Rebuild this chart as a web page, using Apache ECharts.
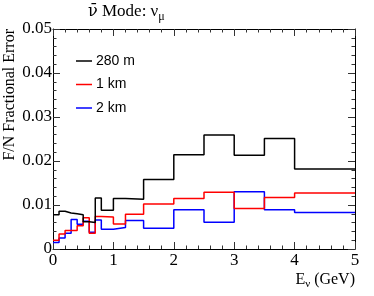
<!DOCTYPE html>
<html><head><meta charset="utf-8">
<script src="https://cdn.jsdelivr.net/npm/echarts@6/dist/echarts.min.js"></script>
<style>html,body{margin:0;padding:0;background:#fff}#c{width:374px;height:296px}</style>
</head><body><div id="c"></div>
<script>
// Bin edges in E_nu (GeV)
const binEdges = [0, 0.1, 0.2, 0.3, 0.4, 0.5, 0.6, 0.7, 0.8, 1.0, 1.2, 1.5, 2.0, 2.5, 3.0, 3.5, 4.0, 5.0];
// F/N fractional error per bin
const err280m = [0.0078, 0.0086, 0.0082, 0.0080, 0.0078, 0.0062, 0.0060, 0.0116, 0.0088, 0.0115, 0.0113, 0.0158, 0.0214, 0.0259, 0.0213, 0.0251, 0.0182];
const err1km  = [0.0020, 0.0034, 0.0042, 0.0042, 0.0053, 0.0071, 0.0036, 0.0074, 0.0073, 0.0057, 0.0079, 0.0102, 0.0115, 0.0129, 0.0092, 0.0117, 0.0127];
const err2km  = [0.0015, 0.0025, 0.0036, 0.0067, 0.0056, 0.0063, 0.0038, 0.0066, 0.0045, 0.0049, 0.0065, 0.0047, 0.0089, 0.0061, 0.0130, 0.0089, 0.0083];
const seriesNames = ['280 m', '1 km', '2 km'];
const xTicks = ['0', '1', '2', '3', '4', '5'];
const yTicks = ['0', '0.01', '0.02', '0.03', '0.04', '0.05'];

function stepData(vals) {
  return binEdges.map((e, i) => [e, vals[Math.min(i, vals.length - 1)]]);
}

const chart = echarts.init(document.getElementById('c'), null, {renderer: 'canvas'});
const serif = 'Liberation Serif';
const axisLineStyle = {color: '#000', width: 1};
function xAx(pos, labels) {
  return {
    type: 'value', position: pos, min: 0, max: 5, interval: 1,
    axisLine: {show: true, onZero: false, lineStyle: axisLineStyle},
    axisTick: {show: true, inside: true, length: 7, lineStyle: {color: '#333'}},
    minorTick: {show: true, splitNumber: 5, length: 3.5, lineStyle: {color: '#333'}},
    splitLine: {show: false},
    axisLabel: {show: labels, margin: 3, fontFamily: serif, fontSize: 17, color: '#000',
      formatter: v => xTicks[Math.round(v)]}
  };
}
function yAx(pos, labels) {
  return {
    type: 'value', position: pos, min: 0, max: 0.05, interval: 0.01,
    axisLine: {show: true, onZero: false, lineStyle: axisLineStyle},
    axisTick: {show: true, inside: true, length: 7, lineStyle: {color: '#333'}},
    minorTick: {show: true, splitNumber: 5, length: 3.5, lineStyle: {color: '#333'}},
    splitLine: {show: false},
    axisLabel: {show: labels, margin: 1, fontFamily: serif, fontSize: 17, color: '#000',
      formatter: v => yTicks[Math.round(v * 100)]}
  };
}
const colors = ['#000000', '#ff0000', '#0000ff'];
const allVals = [err280m, err1km, err2km];

chart.setOption({
  animation: false,
  grid: {left: 53, right: 19, top: 29, bottom: 47, containLabel: false},
  xAxis: [xAx('bottom', true), xAx('top', false)],
  yAxis: [yAx('left', true), yAx('right', false)],
  legend: {
    orient: 'vertical', left: 71, top: 49, itemGap: 9.5,
    itemWidth: 16, itemHeight: 1.5, icon: 'rect',
    textStyle: {fontFamily: 'Liberation Sans', fontSize: 14, color: '#000', padding: [0, 0, 0, -1]},
    data: seriesNames
  },
  series: seriesNames.map((n, i) => ({
    name: n, type: 'line', step: 'end', showSymbol: false, symbol: 'none',
    xAxisIndex: 0, yAxisIndex: 0,
    color: colors[i],
    lineStyle: {color: colors[i], width: 1.5},
    data: stepData(allVals[i]),
    z: 3 - i
  })),
  graphic: [
    {type: 'text', left: 88, top: 3, style: {
      text: '{n|ν̄}{a| Mode: ν}{s|μ}', fill: '#000',
      rich: {n: {fontFamily: 'DejaVu Serif', fontSize: 16, fill: '#000'},
             a: {fontFamily: serif, fontSize: 17, fill: '#000'},
             s: {fontFamily: serif, fontSize: 12, fill: '#000', padding: [10, 0, 0, 0]}}
    }},
    {type: 'text', x: 10, y: 29, rotation: Math.PI / 2, style: {
      text: 'F/N Fractional Error', fontFamily: serif, fontSize: 16, fill: '#000',
      align: 'right', verticalAlign: 'middle'
    }},
    {type: 'text', right: 19, top: 272, style: {
      text: '{a|E}{s|ν}{a| (GeV)}', fill: '#000',
      rich: {a: {fontFamily: serif, fontSize: 16, fill: '#000'},
             s: {fontFamily: serif, fontSize: 11, fill: '#000', padding: [8, 0, 0, 0]}}
    }}
  ]
});
</script></body></html>
